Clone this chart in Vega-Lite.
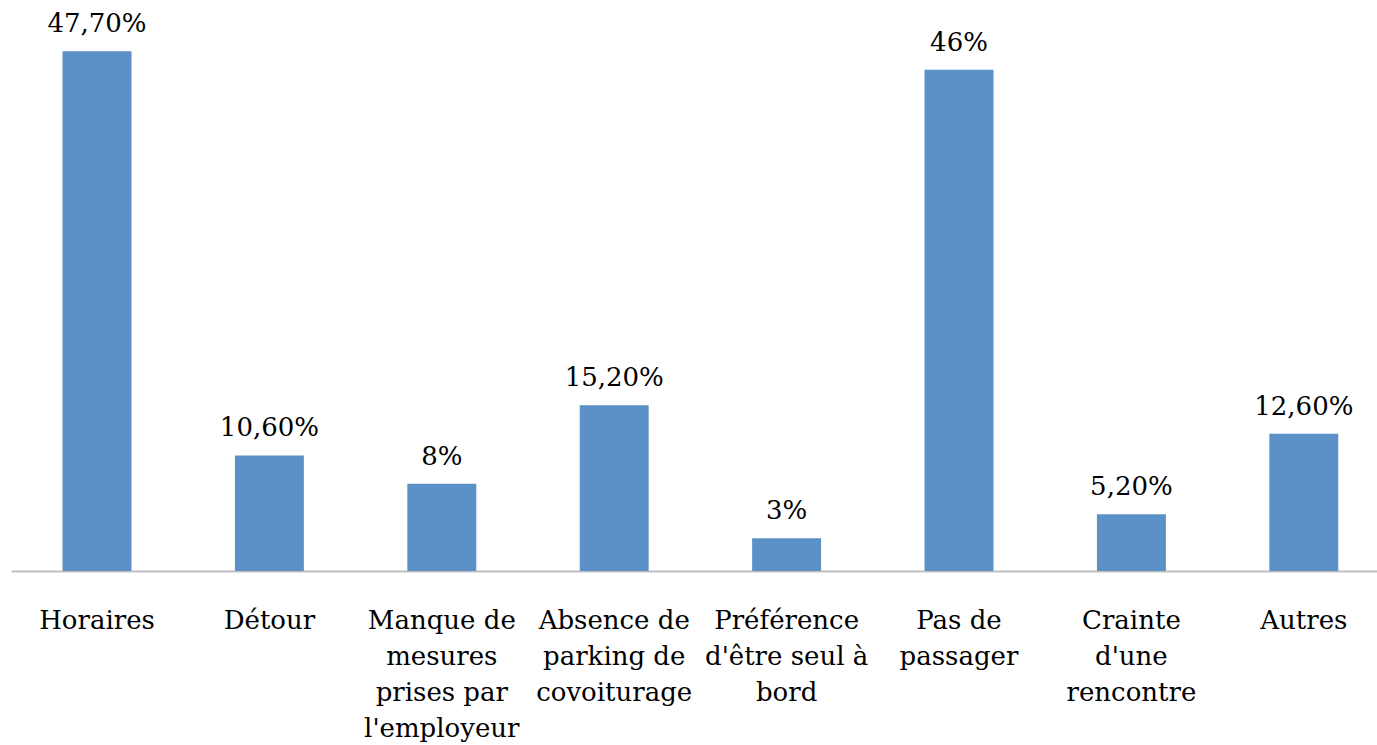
{
  "$schema": "https://vega.github.io/schema/vega-lite/v6.json",
  "width": 1366,
  "height": 571,
  "autosize": {"type": "none"},
  "padding": {"left": 11, "top": 0, "right": 0, "bottom": 174},
  "background": "white",
  "config": {"view": {"stroke": null}, "font": "DejaVu Serif"},
  "data": {
    "values": [
      {"categorie": "Horaires", "valeur": 47.7, "etiquette": "47,70%"},
      {"categorie": "Détour", "valeur": 10.6, "etiquette": "10,60%"},
      {"categorie": "Manque de\nmesures\nprises par\nl'employeur", "valeur": 8, "etiquette": "8%"},
      {"categorie": "Absence de\nparking de\ncovoiturage", "valeur": 15.2, "etiquette": "15,20%"},
      {"categorie": "Préférence\nd'être seul à\nbord", "valeur": 3, "etiquette": "3%"},
      {"categorie": "Pas de\npassager", "valeur": 46, "etiquette": "46%"},
      {"categorie": "Crainte\nd'une\nrencontre", "valeur": 5.2, "etiquette": "5,20%"},
      {"categorie": "Autres", "valeur": 12.6, "etiquette": "12,60%"}
    ]
  },
  "encoding": {
    "x": {
      "field": "categorie",
      "type": "nominal",
      "sort": null,
      "scale": {"paddingInner": 0.6, "paddingOuter": 0.2617, "align": 0.571},
      "axis": {
        "title": null,
        "labelAngle": 0,
        "labelExpr": "split(datum.value, '\\n')",
        "labelFont": "DejaVu Serif",
        "labelFontSize": 26,
        "labelColor": "#000000",
        "labelLineHeight": 36,
        "labelPadding": 36,
        "labelBaseline": "top",
        "ticks": false,
        "domainColor": "#BFBFBF",
        "domainWidth": 2,
        "labelLimit": 300
      }
    },
    "y": {
      "field": "valeur",
      "type": "quantitative",
      "scale": {"domain": [0, 52.4], "nice": false},
      "axis": null
    }
  },
  "layer": [
    {"mark": {"type": "bar", "color": "#5B91C6"}},
    {
      "mark": {"type": "text", "baseline": "bottom", "dy": -14, "font": "DejaVu Serif", "fontSize": 26, "color": "#000000"},
      "encoding": {"text": {"field": "etiquette"}}
    }
  ]
}
